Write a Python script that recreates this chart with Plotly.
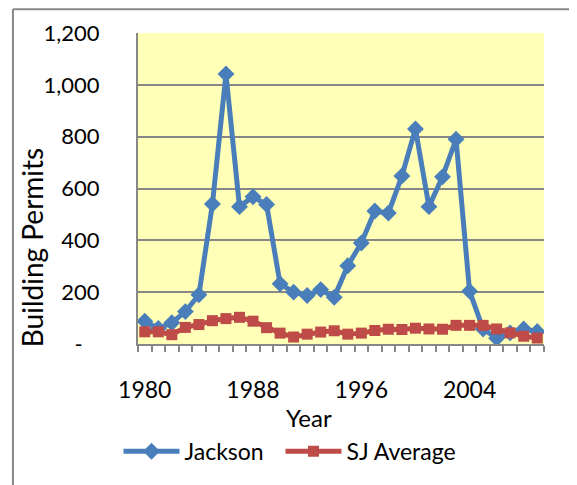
import plotly.graph_objects as go

years = list(range(1980, 2010))
jackson = [88, 60, 82, 125, 190, 540, 1042, 530, 568, 538,
           232, 200, 187, 210, 180, 302, 390, 513, 505, 648,
           830, 530, 645, 790, 204, 58, 22, 43, 58, 48]
sj_average = [47, 47, 36, 64, 75, 90, 98, 103, 88, 63,
              42, 27, 38, 46, 51, 38, 42, 52, 57, 56,
              61, 58, 57, 72, 72, 72, 58, 43, 30, 23]

x_tickvals = [1980, 1988, 1996, 2004]
y_tickvals = [0, 200, 400, 600, 800, 1000, 1200]
y_ticktext = ["-\u00a0\u00a0\u00a0", "200", "400", "600", "800", "1,000", "1,200"]

BLUE = "#4A7EBB"
RED = "#BE4B48"
GRID = "#878787"
FONT = "Lato"

fig = go.Figure()
fig.add_trace(go.Scatter(
    x=years, y=jackson, name="Jackson" + "\u00a0" * 2, mode="lines+markers",
    line=dict(color=BLUE, width=5),
    marker=dict(symbol="diamond", size=13, color=BLUE),
))
fig.add_trace(go.Scatter(
    x=years, y=sj_average, name="SJ Average", mode="lines+markers",
    line=dict(color=RED, width=5),
    marker=dict(symbol="square", size=11, color=RED),
))

# category boundaries for the small tick marks
boundaries = [y - 0.5 for y in years] + [years[-1] + 0.5]

fig.update_xaxes(
    range=[years[0] - 0.5, years[-1] + 0.5],
    tickmode="array", tickvals=x_tickvals,
    ticks="", showgrid=False, zeroline=False,
    showline=True, linecolor=GRID, linewidth=2,
    tickfont=dict(family=FONT, size=23, color="#000000"),
    ticklabelstandoff=24,
    minor=dict(tickvals=boundaries, ticks="outside", ticklen=6,
               tickcolor=GRID, tickwidth=1.5, showgrid=False),
)
fig.update_yaxes(
    range=[0, 1200],
    tickmode="array", tickvals=y_tickvals, ticktext=y_ticktext,
    showgrid=True, gridcolor=GRID, gridwidth=2, zeroline=False,
    showline=True, linecolor=GRID, linewidth=2, ticks="",
    tickfont=dict(family=FONT, size=22, color="#000000"),
    ticklabelstandoff=32,
)

# page body adds 8px, so the figure is shifted back by that amount
fig.update_layout(
    width=569, height=477,
    margin=dict(l=130, r=33, t=25, b=139),
    paper_bgcolor="white",
    plot_bgcolor="#FFFFB8",
    showlegend=True,
    legend=dict(
        orientation="h", x=-0.048, y=-0.345, xanchor="left", yanchor="middle",
        font=dict(family=FONT, size=23, color="#000000"),
        itemwidth=56, bgcolor="rgba(0,0,0,0)",
    ),
    annotations=[
        dict(text="Year", xref="paper", yref="paper", x=0.42, y=-0.236,
             showarrow=False, xanchor="center", yanchor="middle",
             font=dict(family=FONT, size=24, color="#000000")),
        dict(text="Building Permits", xref="paper", yref="paper", x=-0.262, y=0.31,
             showarrow=False, textangle=-90, xanchor="center", yanchor="middle",
             font=dict(family=FONT, size=28, color="#000000")),
    ],
    shapes=[
        dict(type="line", xref="paper", yref="paper", x0=-0.308, x1=-0.308,
             y0=1.0767, y1=-0.6, line=dict(color=GRID, width=2)),
        dict(type="line", xref="paper", yref="paper", x0=-0.308, x1=1.3,
             y0=1.0767, y1=1.0767, line=dict(color=GRID, width=2)),
    ],
)

fig.write_html("out.html")
